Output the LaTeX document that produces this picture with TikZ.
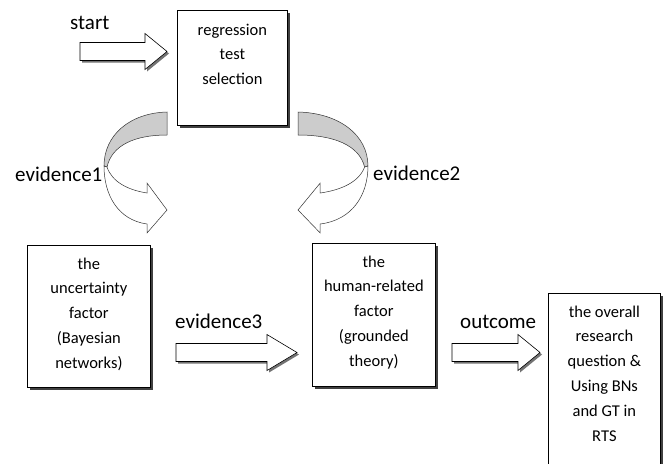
\documentclass[tikz,border=0pt]{standalone}
\usepackage{fontspec}
\setmainfont{Carlito}
\usetikzlibrary{positioning,shadows}

\newcommand{\fatarrow}[4]{%
  \draw[barrow] (#1,#4-9) -- (#2,#4-9) -- (#2,#4-18) -- (#3,#4)
    -- (#2,#4+18) -- (#2,#4+9) -- (#1,#4+9) -- cycle;}

\tikzset{
  box/.style={draw, fill=white, line width=0.8pt, inner sep=0pt,
    drop shadow={shadow xshift=2.5pt, shadow yshift=-2.5pt, fill=black!75, opacity=1}},
  boxtext/.style={anchor=base, inner sep=0pt, font=\fontsize{16.5}{24.8}\selectfont},
  lbl/.style={anchor=base west, inner sep=0pt, font=\fontsize{21}{25}\selectfont},
  barrow/.style={draw, fill=white, line width=0.6pt,
    drop shadow={shadow xshift=2pt, shadow yshift=-2pt, fill=black!55, opacity=1}},
  band/.style={draw=black!80, line width=0.5pt},
  pics/turnarrow/.style={code={
    \draw[band, fill=black!20] (167,112) .. controls (130,113) and (104,135) .. (104,166)
      -- (107,167) .. controls (112,145) and (135,135) .. (167,135) -- cycle;
    \draw[band, fill=white] (107,167) .. controls (112,182) and (128,190) .. (147,193)
      -- (147,183) -- (167,210) -- (147,233) -- (147,224)
      .. controls (118,220) and (104,195) .. (104,166) -- cycle;
  }}
}

\begin{document}
\begin{tikzpicture}[x=1pt, y=-1pt]
\useasboundingbox (0,0) rectangle (663,463);

% boxes
\node[box, anchor=north west, minimum width=110, minimum height=115] (sel) at (177,10) {};
\node[box, anchor=north west, minimum width=123, minimum height=142] (unc) at (27,245) {};
\node[box, anchor=north west, minimum width=123, minimum height=143] (hum) at (312,243) {};
\node[box, anchor=north west, minimum width=112, minimum height=180] (res) at (548,293) {};

\node[boxtext] (seltext) at ([yshift=-25pt]sel.north)
  {\parbox[t]{100pt}{\centering regression\\test\\selection}};
\node[boxtext] (unctext) at ([yshift=-24pt]unc.north)
  {\parbox[t]{115pt}{\centering the\\uncertainty\\factor\\(Bayesian\\networks)}};
\node[boxtext] (humtext) at ([yshift=-24pt]hum.north)
  {\parbox[t]{115pt}{\centering the\\human-related\\factor\\(grounded\\theory)}};
\node[boxtext] (restext) at ([yshift=-24pt]res.north)
  {\parbox[t]{105pt}{\centering the overall\\research\\question \&\\Using BNs\\and GT in\\RTS}};

% labels
\node[lbl] (start) at (70,29) {start};
\node[lbl] (ev1) at (15,181) {evidence1};
\node[lbl] (ev2) at (373,180) {evidence2};
\node[lbl] (ev3) at (175,328) {evidence3};
\node[lbl] (out) at (460,328) {outcome};

% arrows
\fatarrow{80}{145}{167}{51.5}
\fatarrow{176}{267}{297}{352.5}
\fatarrow{452}{518}{540}{352.5}

\pic at (0,0) {turnarrow};
\pic[xshift=483.4, xscale=-1.11] at (0,0) {turnarrow};
\end{tikzpicture}
\end{document}
